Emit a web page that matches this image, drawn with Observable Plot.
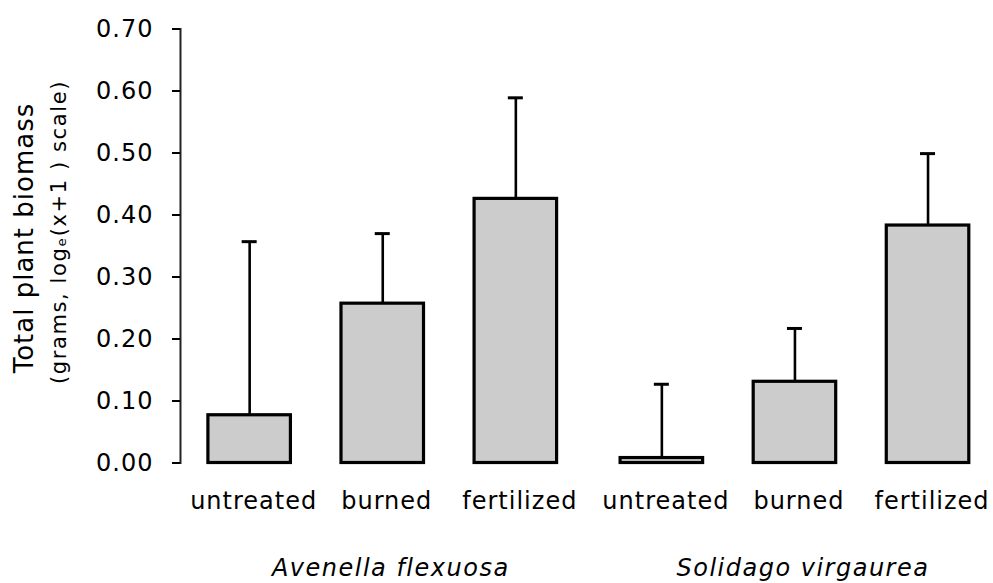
<!DOCTYPE html>
<html>
<head>
<meta charset="utf-8">
<script src="https://cdn.jsdelivr.net/npm/d3@7"></script>
<script src="https://cdn.jsdelivr.net/npm/@observablehq/plot@0.6"></script>
<style>
  html, body { margin: 0; padding: 0; background: #fff; }
</style>
</head>
<body>
<div id="chart"></div>
<script>
// ---- data ----
const species = ["Avenella flexuosa", "Solidago virgaurea"];
const treatments = ["untreated", "burned", "fertilized"];
const avenellaMean  = [0.077, 0.257, 0.426];
const avenellaUpper = [0.357, 0.370, 0.589];
const solidagoMean  = [0.008, 0.131, 0.383];
const solidagoUpper = [0.127, 0.217, 0.499];
const yTicks = [0, 0.1, 0.2, 0.3, 0.4, 0.5, 0.6, 0.7];
const yLabel = "Total plant biomass";
const ySubLabel = "(grams, logₑ(x+1 ) scale)";

const data = [];
treatments.forEach((t, i) => data.push({species: species[0], treatment: t, mean: avenellaMean[i], upper: avenellaUpper[i]}));
treatments.forEach((t, i) => data.push({species: species[1], treatment: t, mean: solidagoMean[i], upper: solidagoUpper[i]}));

const labelData = [{species: species[0], main: yLabel, sub: ySubLabel}];

const chart = Plot.plot({
  width: 993,
  height: 583,
  marginTop: 28.5,
  marginBottom: 120.5,
  marginLeft: 180,
  marginRight: 10.9,
  style: {fontFamily: "'DejaVu Sans', Verdana, sans-serif", fontSize: "24px", color: "#000", background: "#fff", letterSpacing: "1px"},
  fx: {domain: species, paddingInner: 0.0895, paddingOuter: 0.0177, align: 1, round: false, label: null},
  x: {domain: treatments, paddingInner: 0.38, paddingOuter: 0.1, round: false, label: null},
  y: {domain: [0, 0.7], label: null},
  marks: [
    Plot.frame({anchor: "left", facetAnchor: "left", dx: -14.6, strokeWidth: 2, stroke: "#222"}),
    Plot.axisY({ticks: yTicks, tickFormat: d3.format(".2f"), tickSize: 8, tickPadding: 19, dx: -14.6, strokeWidth: 2, label: null, fontSize: 24}),
    Plot.axisX({anchor: "bottom", tickSize: 0, tickPadding: 29, label: null, dx: 4, fontSize: 24}),
    Plot.axisFx({anchor: "bottom", tickSize: 0, tickPadding: 96, label: null, dx: 8, fontSize: 24, fontStyle: "italic"}),
    Plot.barY(data, {fx: "species", x: "treatment", y: "mean", fill: "#cccccc", stroke: "#000", strokeWidth: 3.2}),
    Plot.ruleX(data, {fx: "species", x: "treatment", y1: "mean", y2: "upper", stroke: "#000", strokeWidth: 2.6}),
    Plot.tickY(data, {fx: "species", x: "treatment", y: "upper", insetLeft: 33.75, insetRight: 33.75, stroke: "#000", strokeWidth: 3}),
    Plot.text(labelData, {fx: "species", text: "main", frameAnchor: "left", textAnchor: "middle", lineAnchor: "middle", rotate: -90, dx: -170, dy: -8, fontSize: 26, fill: "#000"}),
    Plot.text(labelData, {fx: "species", text: "sub", frameAnchor: "left", textAnchor: "middle", lineAnchor: "middle", rotate: -90, dx: -136, dy: -14, fontSize: 21, fill: "#000"})
  ]
});

d3.select(chart).selectAll('g[aria-label="fx-axis tick label"] text').style("letter-spacing", "1.5px");
d3.select(chart).selectAll("text").filter(function() { return this.textContent === ySubLabel; }).style("letter-spacing", "1.6px");
document.getElementById("chart").appendChild(chart);
</script>
</body>
</html>
